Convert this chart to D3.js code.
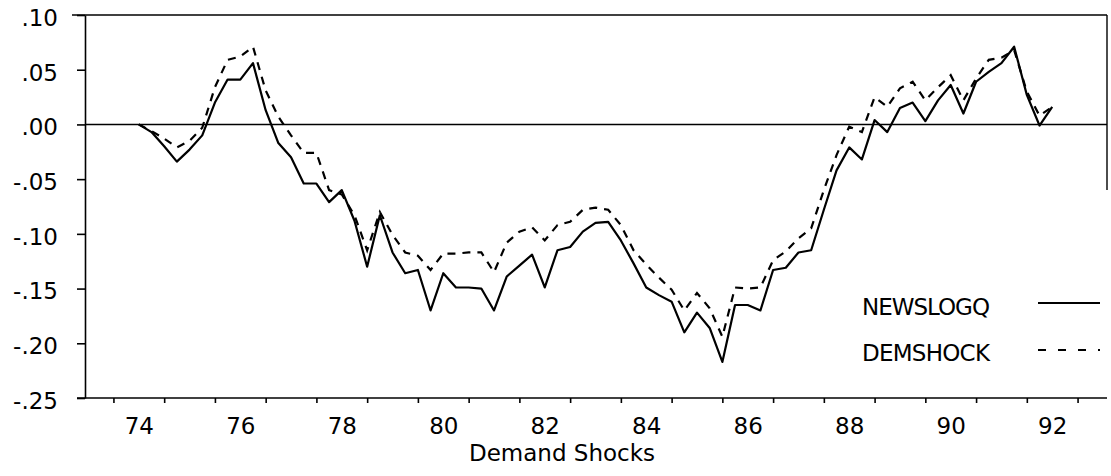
<html>
<head>
<title>Demand Shocks</title>
<style>
  body { margin: 0; background: #fff; }
  svg text { font-family: "DejaVu Sans", Arial, sans-serif; font-size: 23px; fill: #000; }
  .axis path, .axis line { stroke: #000; stroke-width: 1.6; }
</style>
</head>
<body>
<script src="https://d3js.org/d3.v7.min.js"></script>
<script>
// quarterly series, first quarter 1974:1
var startYear = 1974;
var newslogq = [
  0.000, -0.007, -0.020, -0.034, -0.023, -0.010, 0.020, 0.041, 0.041, 0.056,
  0.013, -0.017, -0.030, -0.054, -0.054, -0.071, -0.060, -0.088, -0.130, -0.083,
  -0.117, -0.136, -0.133, -0.170, -0.136, -0.149, -0.149, -0.150, -0.170, -0.139,
  -0.129, -0.119, -0.149, -0.115, -0.112, -0.098, -0.090, -0.089, -0.106, -0.127,
  -0.149, -0.156, -0.162, -0.190, -0.172, -0.186, -0.217, -0.165, -0.165, -0.170,
  -0.133, -0.131, -0.117, -0.115, -0.078, -0.042, -0.021, -0.032, 0.004, -0.007,
  0.015, 0.020, 0.003, 0.022, 0.036, 0.010, 0.039, 0.048, 0.056, 0.071,
  0.027, -0.001, 0.016
];
var demshock = [
  0.000, -0.006, -0.013, -0.021, -0.015, -0.003, 0.034, 0.059, 0.062, 0.071,
  0.031, 0.007, -0.010, -0.026, -0.026, -0.060, -0.064, -0.083, -0.115, -0.080,
  -0.101, -0.117, -0.120, -0.133, -0.118, -0.118, -0.117, -0.117, -0.135, -0.108,
  -0.098, -0.094, -0.106, -0.092, -0.089, -0.078, -0.076, -0.078, -0.092, -0.115,
  -0.128, -0.140, -0.151, -0.170, -0.154, -0.168, -0.194, -0.149, -0.150, -0.149,
  -0.124, -0.116, -0.104, -0.095, -0.060, -0.028, -0.002, -0.007, 0.025, 0.016,
  0.033, 0.039, 0.022, 0.034, 0.045, 0.022, 0.042, 0.059, 0.061, 0.068,
  0.030, 0.008, 0.016
];
var yTicks = [0.10, 0.05, 0.00, -0.05, -0.10, -0.15, -0.20, -0.25];
var yTickLabels = ['.10', '.05', '.00', '-.05', '-.10', '-.15', '-.20', '-.25'];
var xLabelYears = [1974, 1976, 1978, 1980, 1982, 1984, 1986, 1988, 1990, 1992];
var xTickLabels = ['74', '76', '78', '80', '82', '84', '86', '88', '90', '92'];
var seriesNames = ['NEWSLOGQ', 'DEMSHOCK'];

var width = 1111;
var height = 476;
// plot box (note: "top" is a reserved window property, so use other names)
var plotLeft = 85, plotRight = 1107, plotTop = 15, plotBottom = 398;

var svg = d3.select('body')
    .append('svg')
    .attr('width', width)
    .attr('height', height);

// scales
var x = d3.scaleLinear().domain([1972.92, 1993.08]).range([plotLeft - 1, plotRight]);
var y = d3.scaleLinear().domain([-0.25, 0.10]).range([plotBottom, plotTop]);

// year ticks sit half way through each year
var yearTicks = d3.range(1973, 1993).map(function(d) { return d + 0.5; });

// frame: top line and part of the right edge
svg.append('line')
    .attr('x1', 72).attr('x2', plotRight)
    .attr('y1', y(0.10)).attr('y2', y(0.10))
    .attr('stroke', '#000').attr('stroke-width', 1.6);
svg.append('line')
    .attr('x1', plotRight).attr('x2', plotRight)
    .attr('y1', y(0.10)).attr('y2', 190)
    .attr('stroke', '#000').attr('stroke-width', 1.4);

// y axis
var yAxis = d3.axisLeft(y)
    .tickValues(yTicks)
    .tickSize(8)
    .tickSizeOuter(0)
    .tickFormat(function(d, i) { return yTickLabels[i]; });
var gy = svg.append('g')
    .attr('class', 'axis')
    .attr('transform', 'translate(' + plotLeft + ',0)')
    .call(yAxis);
gy.selectAll('text')
    .attr('x', -27)
    .attr('dy', '0.45em');

// x axis line and ticks
var xAxis = d3.axisBottom(x)
    .tickValues(yearTicks)
    .tickSize(5)
    .tickSizeOuter(0)
    .tickFormat('');
svg.append('g')
    .attr('class', 'axis')
    .attr('transform', 'translate(0,' + plotBottom + ')')
    .call(xAxis)
    .select('.domain')
    .attr('d', 'M77,0H' + plotRight);

// x labels
var xLabels = d3.axisBottom(x)
    .tickValues(xLabelYears)
    .tickSize(0)
    .tickFormat(function(d, i) { return xTickLabels[i]; });
var gxl = svg.append('g')
    .attr('transform', 'translate(0,' + plotBottom + ')')
    .call(xLabels);
gxl.select('.domain').remove();
gxl.selectAll('text')
    .attr('y', 20)
    .attr('dy', '0.71em');

// zero line
svg.append('line')
    .attr('x1', plotLeft).attr('x2', plotRight)
    .attr('y1', y(0)).attr('y2', y(0))
    .attr('stroke', '#000').attr('stroke-width', 1.5);

// series lines
var line = d3.line()
    .x(function(d, i) { return x(startYear + i / 4); })
    .y(function(d) { return y(d); });

svg.append('path')
    .datum(newslogq)
    .attr('d', line)
    .attr('fill', 'none')
    .attr('stroke', '#000')
    .attr('stroke-width', 2.2)
    .attr('stroke-linejoin', 'round');

svg.append('path')
    .datum(demshock)
    .attr('d', line)
    .attr('fill', 'none')
    .attr('stroke', '#000')
    .attr('stroke-width', 2.2)
    .attr('stroke-dasharray', '8,7');

// legend
var legend = svg.append('g');
legend.append('text').attr('x', 862).attr('y', 315).attr('textLength', 128).text(seriesNames[0]);
legend.append('text').attr('x', 862).attr('y', 361).attr('textLength', 128).text(seriesNames[1]);
legend.append('line')
    .attr('x1', 1038).attr('x2', 1100)
    .attr('y1', 303).attr('y2', 303)
    .attr('stroke', '#000').attr('stroke-width', 1.8);
legend.append('line')
    .attr('x1', 1038).attr('x2', 1100)
    .attr('y1', 350).attr('y2', 350)
    .attr('stroke', '#000').attr('stroke-width', 1.8)
    .attr('stroke-dasharray', '8,12');

// axis title
svg.append('text')
    .attr('x', 562)
    .attr('y', 461)
    .attr('text-anchor', 'middle')
    .text('Demand Shocks');
</script>
</body>
</html>
